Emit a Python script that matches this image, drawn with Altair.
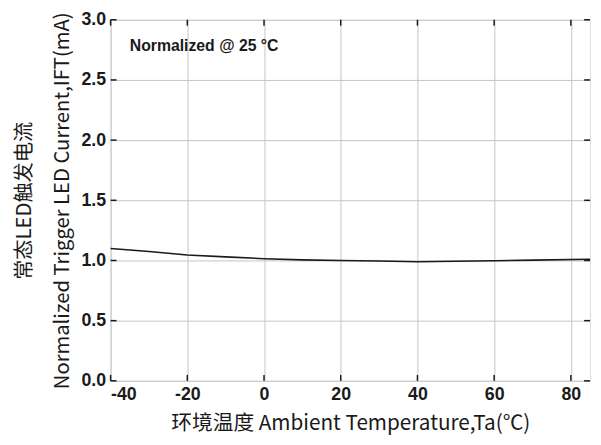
import altair as alt
import pandas as pd

temps = [-40, -30, -20, -10, 0, 10, 20, 30, 40, 50, 60, 70, 85]
current = [1.10, 1.075, 1.045, 1.03, 1.015, 1.005, 1.0, 0.995, 0.99, 0.993, 0.998, 1.003, 1.01]
x_ticks = [-40, -20, 0, 20, 40, 60, 80]
y_ticks = [0.0, 0.5, 1.0, 1.5, 2.0, 2.5, 3.0]
note = "Normalized @ 25 °C"
x_title = "环境温度 Ambient Temperature,Ta(℃)"
y_title = ["常态LED触发电流", "Normalized Trigger LED Current,IFT(mA)"]

W, H = 486, 366
xs = alt.Scale(domain=[-40, 85], nice=False, zero=False)
ys = alt.Scale(domain=[0, 3], nice=False)

lab = dict(labelFont="Liberation Sans", labelFontSize=18, labelFontWeight="bold",
           labelColor="#1a1a1a", titleFont="Noto Sans CJK SC",
           titleFontWeight="normal", titleColor="#1a1a1a", domain=False, ticks=False,
           gridColor="#c4c4c4", gridWidth=1, gridOpacity=1)
xax = alt.Axis(values=x_ticks, title=x_title, labelExpr="datum.value + ''",
               labelPadding=5, titlePadding=9, titleFontSize=21, **lab)
yax = alt.Axis(values=y_ticks, title=y_title, format=".1f", labelPadding=5,
               titlePadding=9, titleLineHeight=38, titleFontSize=20.5, **lab)

df = pd.DataFrame({"t": temps, "i": current})
line = alt.Chart(df).mark_line(color="#1a1a1a", strokeWidth=1.6).encode(
    x=alt.X("t:Q", scale=xs, axis=xax),
    y=alt.Y("i:Q", scale=ys, axis=yax),
)

xt = pd.DataFrame({"t": x_ticks})
yt = pd.DataFrame({"i": y_ticks})
tick_style = dict(color="#1a1a1a", strokeWidth=1.5)
xtop = alt.Chart(xt).mark_rule(**tick_style).encode(
    x=alt.X("t:Q", scale=xs, axis=xax), y=alt.value(0), y2=alt.value(6))
xbot = alt.Chart(xt).mark_rule(**tick_style).encode(
    x=alt.X("t:Q", scale=xs, axis=xax), y=alt.value(H), y2=alt.value(H - 6))
yleft = alt.Chart(yt).mark_rule(**tick_style).encode(
    y=alt.Y("i:Q", scale=ys, axis=yax), x=alt.value(0), x2=alt.value(6))
yright = alt.Chart(yt).mark_rule(**tick_style).encode(
    y=alt.Y("i:Q", scale=ys, axis=yax), x=alt.value(W), x2=alt.value(W - 6))

nd = pd.DataFrame({"t": [-35.0], "i": [2.78], "label": [note]})
text = alt.Chart(nd).mark_text(align="left", baseline="middle", fontWeight="bold",
                               fontSize=16, font="Liberation Sans", color="#1a1a1a").encode(
    x=alt.X("t:Q", scale=xs, axis=xax), y=alt.Y("i:Q", scale=ys, axis=yax), text="label:N")

chart = alt.layer(line, xtop, xbot, yleft, yright, text).properties(
    width=W, height=H,
    autosize=alt.AutoSizeParams(type="none"),
    padding={"left": 104, "top": 9, "right": 3, "bottom": 53},
).configure_view(stroke="#1a1a1a", strokeWidth=2).configure(background="white")

chart.save("out.html", embed_options={"renderer": "svg", "actions": False})
